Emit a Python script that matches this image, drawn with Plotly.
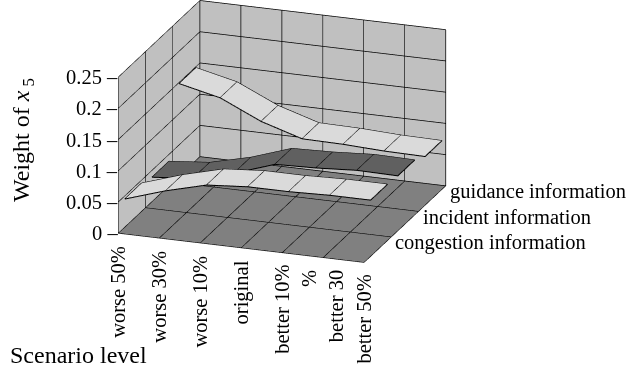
import plotly.graph_objects as go

scenarios = ["worse 50%", "worse 30%", "worse 10%", "original", "better 10%", "%<br>better 30", "better 50%"]
series_names = ["congestion information", "incident information", "guidance information"]
congestion = [0.045, 0.066, 0.083, 0.088, 0.088, 0.090, 0.090]
incident = [0.039, 0.045, 0.061, 0.083, 0.085, 0.089, 0.088]
guidance = [0.148, 0.133, 0.103, 0.083, 0.082, 0.079, 0.078]
z_ticks = [0, 0.05, 0.1, 0.15, 0.2, 0.25]
z_tick_text = ["0", "0.05", "0.1", "0.15", "0.2", "0.25"]
series_values = [congestion, incident, guidance]
series_colors = ["#dadada", "#606060", "#dadada"]

FONT = "Liberation Serif, Times New Roman, serif"
FS = 20.5
TFS = 24
xs = list(range(len(scenarios)))
half = 0.31
offset = 0.05

fig = go.Figure()
for i, (name, vals, col) in enumerate(zip(series_names, series_values, series_colors)):
    ys = [i + offset - half, i + offset + half]
    fig.add_trace(go.Surface(
        x=xs, y=ys, z=[vals, vals],
        colorscale=[[0, col], [1, col]], showscale=False,
        lighting=dict(ambient=1, diffuse=0, specular=0, roughness=1, fresnel=0),
        hoverinfo="skip", name=name))
    lx, ly, lz = [], [], []
    lx += xs + xs[::-1] + [xs[0]]
    ly += [ys[0]] * len(xs) + [ys[1]] * len(xs) + [ys[0]]
    lz += vals + vals[::-1] + [vals[0]]
    for k in range(1, len(xs) - 1):
        lx += [None, xs[k], xs[k]]
        ly += [None, ys[0], ys[1]]
        lz += [None, vals[k], vals[k]]
    fig.add_trace(go.Scatter3d(x=lx, y=ly, z=lz, mode="lines", connectgaps=False,
                               line=dict(color="black", width=2), hoverinfo="skip", showlegend=False))

axis_common = dict(showgrid=True, gridcolor="black", gridwidth=1.5, showline=False,
                   showbackground=True, zeroline=False, showspikes=False,
                   showticklabels=False, ticks="", title=dict(text=""))

ann = []
for i, lab in enumerate(scenarios):
    ann.append(dict(x=i, y=-0.5, z=0, text=lab, textangle=-90, showarrow=False,
                    xanchor="center", yanchor="top", yshift=-10, align="right",
                    font=dict(family=FONT, size=FS, color="black")))
for v, t in zip(z_ticks, z_tick_text):
    ann.append(dict(x=0, y=-0.5, z=v, text=t + " –", showarrow=False, xanchor="right", xshift=2,
                    font=dict(family=FONT, size=FS, color="black")))
for i, name in enumerate(series_names):
    ann.append(dict(x=len(xs) - 1, y=i + offset, z=0, text=name, showarrow=False, xanchor="left",
                    xshift=14, yshift=6, font=dict(family=FONT, size=FS, color="black")))

d = (0.316, -0.888, 0.334)
r = 2.0
s = 1.26

fig.update_layout(
    width=627, height=376,
    margin=dict(l=0, r=0, t=0, b=0),
    paper_bgcolor="white",
    font=dict(family=FONT, color="black"),
    showlegend=False,
    scene=dict(
        domain=dict(x=[0.0, 0.9], y=[0.3, 1.0]),
        xaxis=dict(axis_common, tickvals=xs, range=[0, len(xs) - 1], backgroundcolor="#c0c0c0"),
        yaxis=dict(axis_common, tickvals=[-0.5, 0.5, 1.5, 2.5], range=[-0.5, 2.5], backgroundcolor="#c0c0c0"),
        zaxis=dict(axis_common, tickvals=z_ticks, range=[0, 0.25], backgroundcolor="#808080"),
        aspectmode="manual", aspectratio=dict(x=1.5 * s * 1.05, y=1.47 * s, z=1.0 * s),
        camera=dict(eye=dict(x=d[0] * r, y=d[1] * r, z=d[2] * r), center=dict(x=0, y=0, z=0),
                    projection=dict(type="orthographic")),
        annotations=ann,
    ),
    annotations=[
        dict(text="Weight of <i>x</i><sub> 5</sub>", x=23, y=140, xref="paper", yref="paper",
             xanchor="center", yanchor="middle",
             textangle=-90, showarrow=False, font=dict(family=FONT, size=TFS, color="black")),
        dict(text="Scenario level", x=8, y=355, xref="paper", yref="paper", xanchor="left",
             yanchor="middle", showarrow=False, font=dict(family=FONT, size=TFS, color="black")),
    ],
)
for a in fig.layout.annotations:
    a.x = a.x / 627
    a.y = 1 - a.y / 376

fig.write_html("out.html")
